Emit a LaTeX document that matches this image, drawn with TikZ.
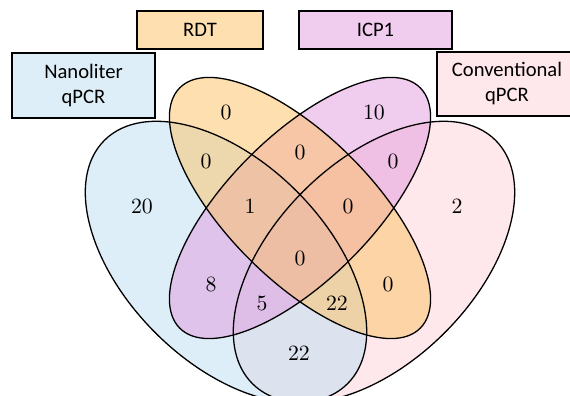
\documentclass[tikz,border=0pt]{standalone}
\usepackage{fontspec}
\usepackage{xcolor}
\usepackage{tikz}
\newfontfamily\boxfont{Carlito}
% pale tints for the name boxes
\definecolor{nanoblue}{HTML}{DDEEF8}
\definecolor{rdtorange}{HTML}{FEE0B0}
\definecolor{icppurple}{HTML}{F0CCEE}
\definecolor{convpink}{HTML}{FFE8EC}
% full tones, laid at half opacity
\definecolor{nanofill}{HTML}{BBDDF1}
\definecolor{rdtfill}{HTML}{FDC161}
\definecolor{icpfill}{HTML}{E199DD}
\definecolor{convfill}{HTML}{FFD1D9}

\begin{document}
\begin{tikzpicture}[x=0.5pt, y=0.5pt,
    setline/.style={line width=0.65pt, draw=black},
    setfill/.style={fill opacity=0.5},
    setbox/.style={draw=black, line width=0.65pt, align=center,
                   font=\boxfont\fontsize{10.3}{12.5}\selectfont, inner sep=0pt},
    count/.style={font=\fontsize{10.9}{12}\selectfont, inner sep=1pt}]
    \useasboundingbox (0,0) rectangle (570,396);
    % centres of the four sets
    \coordinate (nano) at (226,134);
    \coordinate (conv) at (374,134);
    \coordinate (rdt)  at (300,188);
    \coordinate (icp)  at (300,188);
    % fills
    \fill[setfill, convfill, rotate around={45:(conv)}] (conv) ellipse [x radius=86pt, y radius=50pt];
    \fill[setfill, nanofill, rotate around={-45:(nano)}] (nano) ellipse [x radius=86pt, y radius=50pt];
    \fill[setfill, icpfill, rotate around={45:(icp)}] (icp) ellipse [x radius=85pt, y radius=36pt];
    \fill[setfill, rdtfill, rotate around={-45:(rdt)}] (rdt) ellipse [x radius=85pt, y radius=36pt];
    % outlines
    \draw[setline, rotate around={-45:(nano)}] (nano) ellipse [x radius=86pt, y radius=50pt];
    \draw[setline, rotate around={45:(conv)}] (conv) ellipse [x radius=86pt, y radius=50pt];
    \draw[setline, rotate around={-45:(rdt)}] (rdt) ellipse [x radius=85pt, y radius=36pt];
    \draw[setline, rotate around={45:(icp)}] (icp) ellipse [x radius=85pt, y radius=36pt];

    % set names
    \node[setbox, fill=nanoblue, minimum width=71.5pt, minimum height=32.5pt]
         (nanolbl) at (83.5,310.5) {Nanoliter\\qPCR};
    \node[setbox, fill=rdtorange, minimum width=63pt, minimum height=19pt]
         (rdtlbl) at (200,366) {RDT};
    \node[setbox, fill=icppurple, minimum width=76.5pt, minimum height=19pt]
         (icplbl) at (375.5,366) {ICP1};
    \node[setbox, fill=convpink, minimum width=70pt, minimum height=32pt]
         (convlbl) at (507,312) {Conventional\\qPCR};

    % counts
    \node[count] (rdtonly)  at (226,284) {0};
    \node[count] (icponly)  at (374,284) {10};
    \node[count] (nanordt)  at (206,235) {0};
    \node[count] (rdticp)   at (300,244) {0};
    \node[count] (icpconv)  at (393,235) {0};
    \node[count] (nanoonly) at (142,190) {20};
    \node[count] (nri)      at (250,190) {1};
    \node[count] (ric)      at (348,190) {0};
    \node[count] (convonly) at (457,190) {2};
    \node[count] (allfour)  at (300,138) {0};
    \node[count] (nanoicp)  at (211,112) {8};
    \node[count] (rdtconv)  at (388,112) {0};
    \node[count] (nic)      at (262,93) {5};
    \node[count] (nrc)      at (337,93) {22};
    \node[count] (nanoconv) at (299,43) {22};
\end{tikzpicture}
\end{document}
